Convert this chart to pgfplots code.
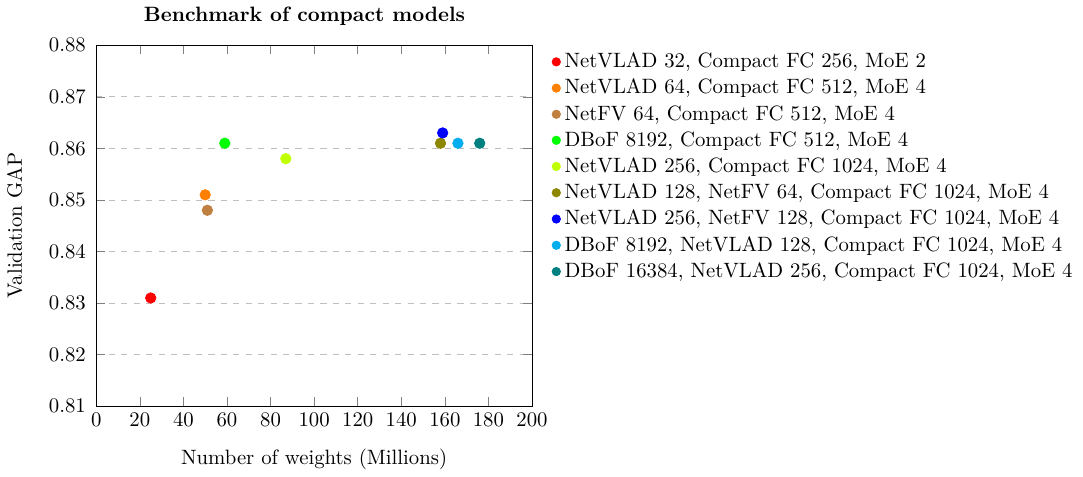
\documentclass[border=0pt]{standalone}
\usepackage{pgfplots}
\pgfplotsset{compat=1.18}
\begin{document}
\begin{tikzpicture}
\begin{axis}[
  scale only axis,
  width=210pt, height=174pt,
  xmin=0, xmax=200, ymin=0.81, ymax=0.88,
  xtick={0,20,...,200},
  ytick={0.81,0.82,0.83,0.84,0.85,0.86,0.87,0.88},
  yticklabel style={xshift=-1.5pt,/pgf/number format/fixed,/pgf/number format/precision=2,/pgf/number format/fixed zerofill},
  ymajorgrids, major grid style={dashed,gray!50},
  xlabel={Number of weights (Millions)},
  ylabel={Validation GAP},
  xlabel style={yshift=-3.5pt},
  ylabel style={yshift=6pt},
  title={\textbf{Benchmark of compact models}},
  title style={at={(0.478,1)}},
  legend style={at={(1.031,1.003)}, anchor=north west, draw=none, fill=none, font=\normalsize, row sep=0pt},
  legend cell align=left,
  legend image code/.code={\draw[mark size=2pt,#1] plot coordinates {(0cm,0cm)};},
  mystyle/.style={only marks, mark=*, mark size=2.5pt, draw=#1, fill=#1},
]
\addplot[mystyle=red] table[row sep=\\] {x y\\ 25 0.831\\};
\addlegendentry{NetVLAD 32, Compact FC 256, MoE 2}
\addplot[mystyle=orange] table[row sep=\\] {x y\\ 50 0.851\\};
\addlegendentry{NetVLAD 64, Compact FC 512, MoE 4}
\addplot[mystyle=brown] table[row sep=\\] {x y\\ 51 0.848\\};
\addlegendentry{NetFV 64, Compact FC 512, MoE 4}
\addplot[mystyle=green] table[row sep=\\] {x y\\ 59 0.861\\};
\addlegendentry{DBoF 8192, Compact FC 512, MoE 4}
\addplot[mystyle=lime] table[row sep=\\] {x y\\ 87 0.858\\};
\addlegendentry{NetVLAD 256, Compact FC 1024, MoE 4}
\addplot[mystyle=olive] table[row sep=\\] {x y\\ 158 0.861\\};
\addlegendentry{NetVLAD 128, NetFV 64, Compact FC 1024, MoE 4}
\addplot[mystyle=blue] table[row sep=\\] {x y\\ 159 0.863\\};
\addlegendentry{NetVLAD 256, NetFV 128, Compact FC 1024, MoE 4}
\addplot[mystyle=cyan] table[row sep=\\] {x y\\ 166 0.861\\};
\addlegendentry{DBoF 8192, NetVLAD 128, Compact FC 1024, MoE 4}
\addplot[mystyle=teal] table[row sep=\\] {x y\\ 176 0.861\\};
\addlegendentry{DBoF 16384, NetVLAD 256, Compact FC 1024, MoE 4}
\end{axis}
\end{tikzpicture}
\end{document}
